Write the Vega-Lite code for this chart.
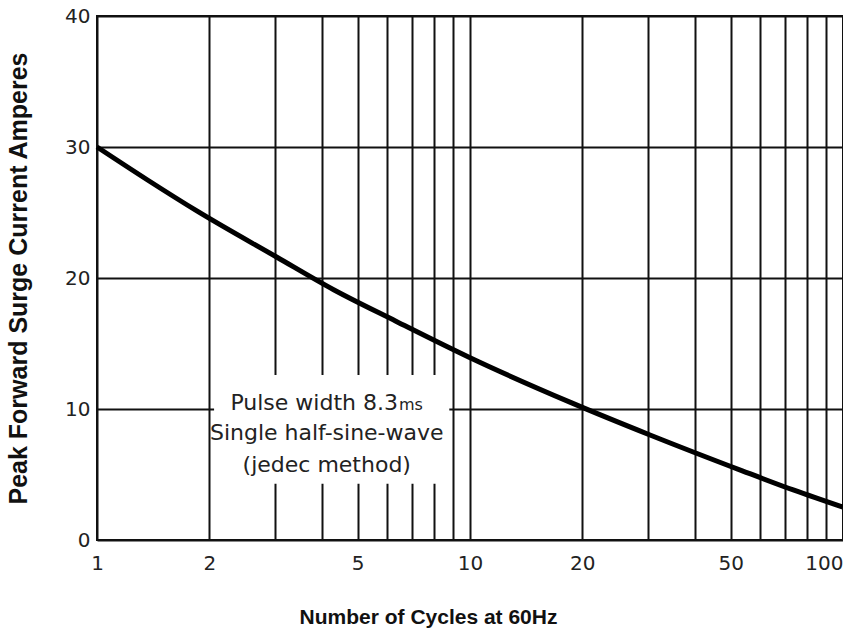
{
  "$schema": "https://vega.github.io/schema/vega-lite/v6.json",
  "width": 746,
  "height": 524,
  "autosize": {"type": "none"},
  "padding": {"left": 97, "top": 16, "right": 0, "bottom": 101},
  "background": "white",
  "config": {
    "view": {"stroke": "#111", "strokeWidth": 2}
  },
  "datasets": {
    "curve": [
      {"cycles": 1, "amps": 30},
      {"cycles": 1.363, "amps": 27.5},
      {"cycles": 1.857, "amps": 25.1},
      {"cycles": 3.03, "amps": 21.6},
      {"cycles": 4.31, "amps": 19.1},
      {"cycles": 6.33, "amps": 16.7},
      {"cycles": 9.94, "amps": 13.95},
      {"cycles": 18.8, "amps": 10.45},
      {"cycles": 30.5, "amps": 8.0},
      {"cycles": 53.5, "amps": 5.3},
      {"cycles": 73.9, "amps": 3.8},
      {"cycles": 100, "amps": 2.5}
    ],
    "box": [{"x1": 2.06, "x2": 8.8, "y1": 4.3, "y2": 12.6}],
    "lines": [
      {"cycles": 4.13, "amps": 8.2, "text": "Single half-sine-wave"},
      {"cycles": 4.13, "amps": 5.7, "text": "(jedec method)"}
    ],
    "first": [{"cycles": 6.41, "amps": 10.45, "text": "Pulse width 8.3"}],
    "unit": [{"cycles": 6.45, "amps": 10.45, "text": "ms"}]
  },
  "layer": [
    {
      "data": {"name": "curve"},
      "mark": {"type": "line", "color": "#000", "strokeWidth": 5, "interpolate": "monotone"},
      "encoding": {
        "x": {
          "field": "cycles",
          "type": "quantitative",
          "scale": {"type": "log", "domain": [1, 100], "nice": false},
          "axis": {
            "values": [1, 2, 3, 4, 5, 6, 7, 8, 9, 10, 20, 30, 40, 50, 60, 70, 80, 90, 100],
            "labelExpr": "indexof([1,2,5,10,20,50,100], datum.value) >= 0 ? '' + datum.value : ''",
            "ticks": false,
            "domain": false,
            "grid": true,
            "gridColor": "#111",
            "gridWidth": 2,
            "gridOpacity": 1,
            "labelFont": "DejaVu Sans",
            "labelFontSize": 20,
            "labelColor": "#222",
            "labelPadding": 13,
            "labelFlush": false,
            "labelBound": false,
            "labelOverlap": false,
            "labelAlign": {"condition": {"test": "datum.value >= 100", "value": "right"}, "value": "center"},
            "title": "Number of Cycles at 60Hz",
            "titleFont": "Liberation Sans",
            "titleFontWeight": "bold",
            "titleFontSize": 21,
            "titleColor": "#111",
            "titlePadding": 33,
            "titleX": 331,
            "titleAnchor": "start",
            "titleAlign": "center"
          }
        },
        "y": {
          "field": "amps",
          "type": "quantitative",
          "scale": {"domain": [0, 40], "nice": false, "zero": true},
          "axis": {
            "values": [0, 10, 20, 30, 40],
            "ticks": false,
            "domain": false,
            "grid": true,
            "gridColor": "#111",
            "gridWidth": 2,
            "gridOpacity": 1,
            "labelFont": "DejaVu Sans",
            "labelFontSize": 20,
            "labelColor": "#222",
            "labelPadding": 7,
            "title": "Peak Forward Surge Current Amperes",
            "titleFont": "Liberation Sans",
            "titleFontWeight": "bold",
            "titleFontSize": 25,
            "titleColor": "#111",
            "titlePadding": 33
          }
        }
      }
    },
    {
      "data": {"name": "box"},
      "mark": {"type": "rect", "fill": "white", "stroke": null},
      "encoding": {
        "x": {"field": "x1", "type": "quantitative"},
        "x2": {"field": "x2"},
        "y": {"field": "y1", "type": "quantitative"},
        "y2": {"field": "y2"}
      }
    },
    {
      "data": {"name": "lines"},
      "mark": {"type": "text", "font": "DejaVu Sans", "fontSize": 22, "color": "#222", "align": "center", "baseline": "middle"},
      "encoding": {
        "x": {"field": "cycles", "type": "quantitative"},
        "y": {"field": "amps", "type": "quantitative"},
        "text": {"field": "text"}
      }
    },
    {
      "data": {"name": "first"},
      "mark": {"type": "text", "font": "DejaVu Sans", "fontSize": 22, "color": "#222", "align": "right", "baseline": "middle"},
      "encoding": {
        "x": {"field": "cycles", "type": "quantitative"},
        "y": {"field": "amps", "type": "quantitative"},
        "text": {"field": "text"}
      }
    },
    {
      "data": {"name": "unit"},
      "mark": {"type": "text", "font": "DejaVu Sans", "fontSize": 16, "color": "#222", "align": "left", "baseline": "middle", "dy": 2},
      "encoding": {
        "x": {"field": "cycles", "type": "quantitative"},
        "y": {"field": "amps", "type": "quantitative"},
        "text": {"field": "text"}
      }
    }
  ]
}
